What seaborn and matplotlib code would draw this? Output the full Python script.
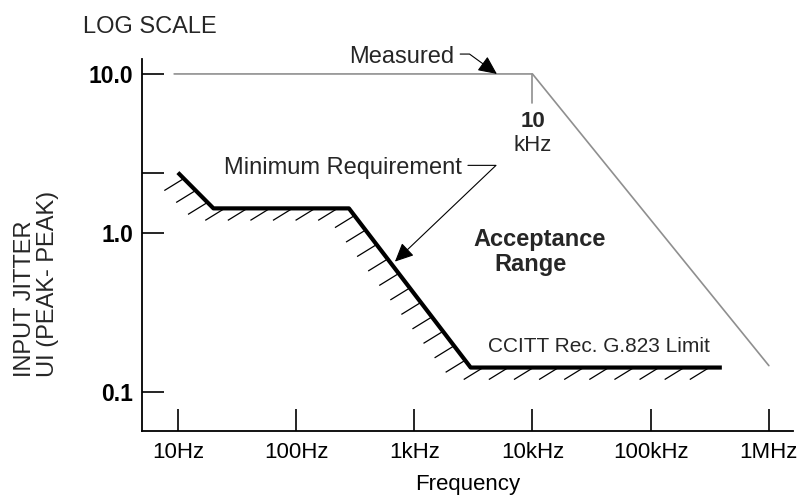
import numpy as np
import pandas as pd
import matplotlib
matplotlib.use('Agg')
import matplotlib.pyplot as plt
from matplotlib.collections import LineCollection
from matplotlib.ticker import NullLocator
import seaborn as sns

sns.set_theme(style='ticks')
plt.rcParams['font.family'] = ['Liberation Sans', 'DejaVu Sans']

# values
min_req_freq = [10, 20, 280, 3000, 400000]
min_req_jitter = [2.4, 1.43, 1.43, 0.143, 0.143]
measured_freq = [9.3, 10000, 1000000]
measured_jitter = [10, 10, 0.147]
corner_freq = 10000
corner_mark = [6.6, 10]
xtick_vals = [10, 100, 1000, 10000, 100000, 1000000]
xtick_labels = ['10Hz', '100Hz', '1kHz', '10kHz', '100kHz', '1MHz']
ytick_vals = [0.1, 1.0, 2.4, 10.0]
ytick_labels = ['0.1', '1.0', '', '10.0']
hatch_counts = [3, 6, 11, 10]

W, H = 806, 495
GREY = '#8f8f8f'

fig = plt.figure(figsize=(W / 100, H / 100), dpi=100)
ax = fig.add_axes([142.3 / W, 1 - 431 / H, (793 - 142.3) / W, (431 - 59.3) / H])
ax.set_xscale('log')
ax.set_yscale('log')

meas_df = pd.DataFrame({'freq': measured_freq, 'jitter': measured_jitter})
req_df = pd.DataFrame({'freq': min_req_freq, 'jitter': min_req_jitter})
sns.lineplot(data=meas_df, x='freq', y='jitter', ax=ax, color=GREY, lw=1.2,
             estimator=None, sort=False)
sns.lineplot(data=req_df, x='freq', y='jitter', ax=ax, color='black', lw=3,
             estimator=None, sort=False, solid_capstyle='butt')
ax.plot([corner_freq, corner_freq], corner_mark, color=GREY, lw=1.2)

ax.set_xlim(5, 1.6e6)
ax.set_ylim(0.0571, 12.36)

# hatching under the minimum requirement line (short strokes, down-left)
pts = ax.transData.transform(np.column_stack([min_req_freq, min_req_jitter]))
off = np.array([-19.5, -12.0])
segs = []
for p0, p1, n in zip(pts[:-1], pts[1:], hatch_counts):
    for i in range(n):
        p = p0 + (i + 0.5) / n * (p1 - p0)
        segs.append(ax.transData.inverted().transform(np.array([p, p + off])))
ax.add_collection(LineCollection(segs, colors='black', linewidths=0.9))

# axes styling
sns.despine(ax=ax)
for s in ['left', 'bottom']:
    ax.spines[s].set_color('black')
    ax.spines[s].set_linewidth(1.3)
ax.set_xticks(xtick_vals, xtick_labels)
ax.set_yticks(ytick_vals, ytick_labels)
ax.xaxis.set_minor_locator(NullLocator())
ax.yaxis.set_minor_locator(NullLocator())
ax.tick_params(direction='in', length=16, width=1.2, color='black')
ax.tick_params(axis='x', labelsize=16, pad=8, labelcolor='black')
ax.tick_params(axis='y', labelsize=16.5, pad=6.5, labelcolor='black')
for t in ax.get_yticklabels():
    t.set_fontweight('bold')
ax.set_ylabel('')
ax.set_xlabel('Frequency', fontsize=16, color='black', labelpad=8)


def fp(x, y):
    # reference pixel (from top-left) -> figure pixels
    return (x, H - y)


fig.text(83 / W, 1 - 33.3 / H, 'LOG SCALE', fontsize=17, ha='left', va='baseline')
fig.text(36.5 / W, 1 - 377 / H, 'INPUT JITTER\nUI (PEAK- PEAK)', fontsize=17,
         rotation=90, ha='center', va='bottom', multialignment='left', linespacing=1.1)

arrow = dict(arrowstyle='-|>,head_length=0.6,head_width=0.28', mutation_scale=19,
             relpos=(1, 0.62), shrinkA=2, shrinkB=0, color='black', lw=0.8)
ax.annotate('Measured', xy=(5000, 10), xycoords='data',
            xytext=fp(349, 62.7), textcoords='figure pixels',
            ha='left', va='baseline', fontsize=17,
            arrowprops=dict(arrow, connectionstyle='angle,angleA=0,angleB=-36,rad=0'))
ax.annotate('Minimum Requirement', xy=(686, 0.662), xycoords='data',
            xytext=fp(224, 174), textcoords='figure pixels',
            ha='left', va='baseline', fontsize=17,
            arrowprops=dict(arrow, connectionstyle='angle,angleA=0,angleB=43.6,rad=0'))

fig.text(532.5 / W, 1 - 127.3 / H, '10', fontsize=16, fontweight='bold', ha='center', va='baseline')
fig.text(533 / W, 1 - 151 / H, 'kHz', fontsize=16, ha='center', va='baseline')
fig.text(540 / W, 1 - 246 / H, 'Acceptance', fontsize=17, fontweight='bold', ha='center', va='baseline')
fig.text(531 / W, 1 - 270.7 / H, 'Range', fontsize=17, fontweight='bold', ha='center', va='baseline')
fig.text(487.7 / W, 1 - 351.7 / H, 'CCITT Rec. G.823 Limit', fontsize=15, ha='left', va='baseline')

fig.savefig('out.png', dpi=100)
